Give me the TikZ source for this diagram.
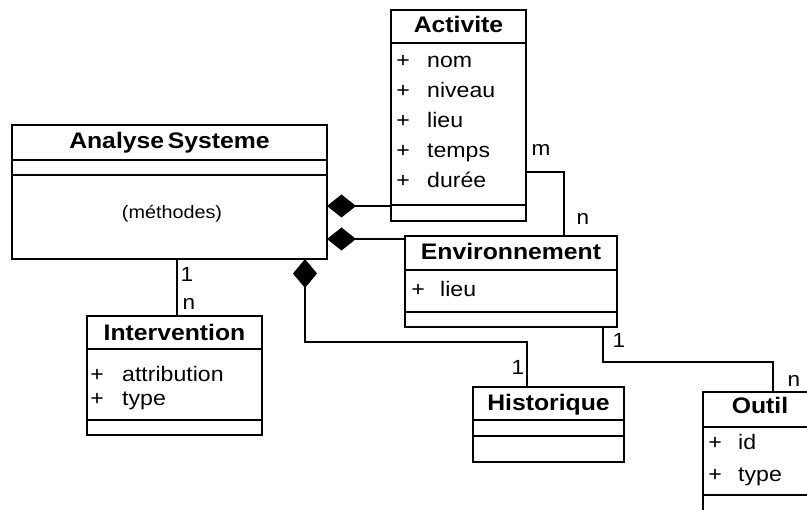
\documentclass[tikz,border=0pt]{standalone}
\usepackage{fontspec}
\setmainfont{Liberation Sans}
\newfontfamily\umlfont[FakeStretch=1.1]{Liberation Sans}
\usetikzlibrary{arrows.meta}

\tikzset{
  classbox/.style={draw, line width=1.6pt, inner sep=0pt, outer sep=0pt},
  sepline/.style={line width=1.4pt},
  ctitle/.style={font=\umlfont\bfseries\fontsize{22.5}{25}\selectfont, anchor=base, inner sep=0pt},
  cattr/.style={font=\umlfont\fontsize{21}{24}\selectfont, anchor=base west, inner sep=0pt},
  cplus/.style={font=\umlfont\fontsize{21}{24}\selectfont, anchor=base, inner sep=0pt},
  cmeth/.style={font=\umlfont\fontsize{18}{20}\selectfont, anchor=base, inner sep=0pt},
  mult/.style={font=\umlfont\fontsize{20.5}{24}\selectfont, anchor=base, inner sep=0pt},
  assoc/.style={line width=1.4pt},
  comp/.style={line width=1.4pt, {Diamond[length=29pt, width=23pt]}-},
  compv/.style={line width=1.4pt, {Diamond[length=29pt, width=24pt]}-},
}

\begin{document}
\begin{tikzpicture}[x=1pt, y=-1pt]
  \fill[white] (0,0) rectangle (807,510);
  \useasboundingbox (0,0) rectangle (807,510);
  \clip (0,0) rectangle (807,510);

  % ---- Activite ----
  \node[classbox, minimum width=135pt, minimum height=211pt] (act) at (458.5,115.5) {};
  \draw[sepline] (act.west |- 0,43) -- (act.east |- 0,43);
  \draw[sepline] (act.west |- 0,205) -- (act.east |- 0,205);
  \node[ctitle] (actT) at (act.north |- 0,33) {Activite};
  \node[cplus] (actP1) at (403,68) {+};
  \node[cattr] (actA1) at (427,68) {nom};
  \node[cplus] (actP2) at (403,98) {+};
  \node[cattr] (actA2) at (427,98) {niveau};
  \node[cplus] (actP3) at (403,128) {+};
  \node[cattr] (actA3) at (427,128) {lieu};
  \node[cplus] (actP4) at (403,158) {+};
  \node[cattr] (actA4) at (427,158) {temps};
  \node[cplus] (actP5) at (403,188) {+};
  \node[cattr] (actA5) at (427,188) {durée};

  % ---- AnalyseSysteme ----
  \node[classbox, minimum width=315pt, minimum height=134pt] (ana) at (169.5,192) {};
  \draw[sepline] (ana.west |- 0,160) -- (ana.east |- 0,160);
  \draw[sepline] (ana.west |- 0,175) -- (ana.east |- 0,175);
  \node[ctitle] (anaT) at (ana.north |- 0,149) {Analyse\,Systeme};
  \node[cmeth] (anaM) at (172,219) {(méthodes)};

  % ---- Environnement ----
  \node[classbox, minimum width=212pt, minimum height=91pt] (env) at (511,281.5) {};
  \draw[sepline] (env.west |- 0,270) -- (env.east |- 0,270);
  \draw[sepline] (env.west |- 0,312) -- (env.east |- 0,312);
  \node[ctitle] (envT) at (env.north |- 0,260) {Environnement};
  \node[cplus] (envP1) at (418,297) {+};
  \node[cattr] (envA1) at (440,297) {lieu};

  % ---- Intervention ----
  \node[classbox, minimum width=175pt, minimum height=119pt] (int) at (174.5,375.5) {};
  \draw[sepline] (int.west |- 0,349) -- (int.east |- 0,349);
  \draw[sepline] (int.west |- 0,420) -- (int.east |- 0,420);
  \node[ctitle] (intT) at (int.north |- 0,341) {Intervention};
  \node[cplus] (intP1) at (97,382) {+};
  \node[cattr] (intA1) at (122,382) {attribution};
  \node[cplus] (intP2) at (97,406) {+};
  \node[cattr] (intA2) at (122,406) {type};

  % ---- Historique ----
  \node[classbox, minimum width=151pt, minimum height=75pt] (his) at (548.5,424.5) {};
  \draw[sepline] (his.west |- 0,420) -- (his.east |- 0,420);
  \draw[sepline] (his.west |- 0,436) -- (his.east |- 0,436);
  \node[ctitle] (hisT) at (his.north |- 0,411) {Historique};

  % ---- Outil (runs past the page edge) ----
  \node[classbox, minimum width=114pt, minimum height=130pt] (out) at (760,457) {};
  \draw[sepline] (out.west |- 0,427) -- (out.east |- 0,427);
  \draw[sepline] (out.west |- 0,495) -- (out.east |- 0,495);
  \node[ctitle] (outT) at (out.north |- 0,414) {Outil};
  \node[cplus] (outP1) at (715,450) {+};
  \node[cattr] (outA1) at (738,450) {id};
  \node[cplus] (outP2) at (715,482) {+};
  \node[cattr] (outA2) at (738,482) {type};

  % ---- compositions ----
  \draw[comp] (ana.east |- 0,206) -- (act.west |- 0,206);
  \draw[comp] (ana.east |- 0,239) -- (env.west |- 0,239);
  \draw[compv] (ana.south -| 305,0) -- (305,342) -| (his.north -| 527,0);

  % ---- associations ----
  \draw[assoc] (ana.south -| 177,0) -- (int.north -| 177,0);
  \draw[assoc] (act.east |- 0,172) -| (env.north -| 564,0);
  \draw[assoc] (env.south -| 603,0) -- (603,362) -| (out.north -| 773,0);

  % ---- multiplicities ----
  \node[mult] (m1) at (187,282) {1};
  \node[mult] (m2) at (189,310) {n};
  \node[mult] (m3) at (541,156) {m};
  \node[mult] (m4) at (583,225) {n};
  \node[mult] (m5) at (518,375) {1};
  \node[mult] (m6) at (619,348) {1};
  \node[mult] (m7) at (794,387) {n};
\end{tikzpicture}
\end{document}
